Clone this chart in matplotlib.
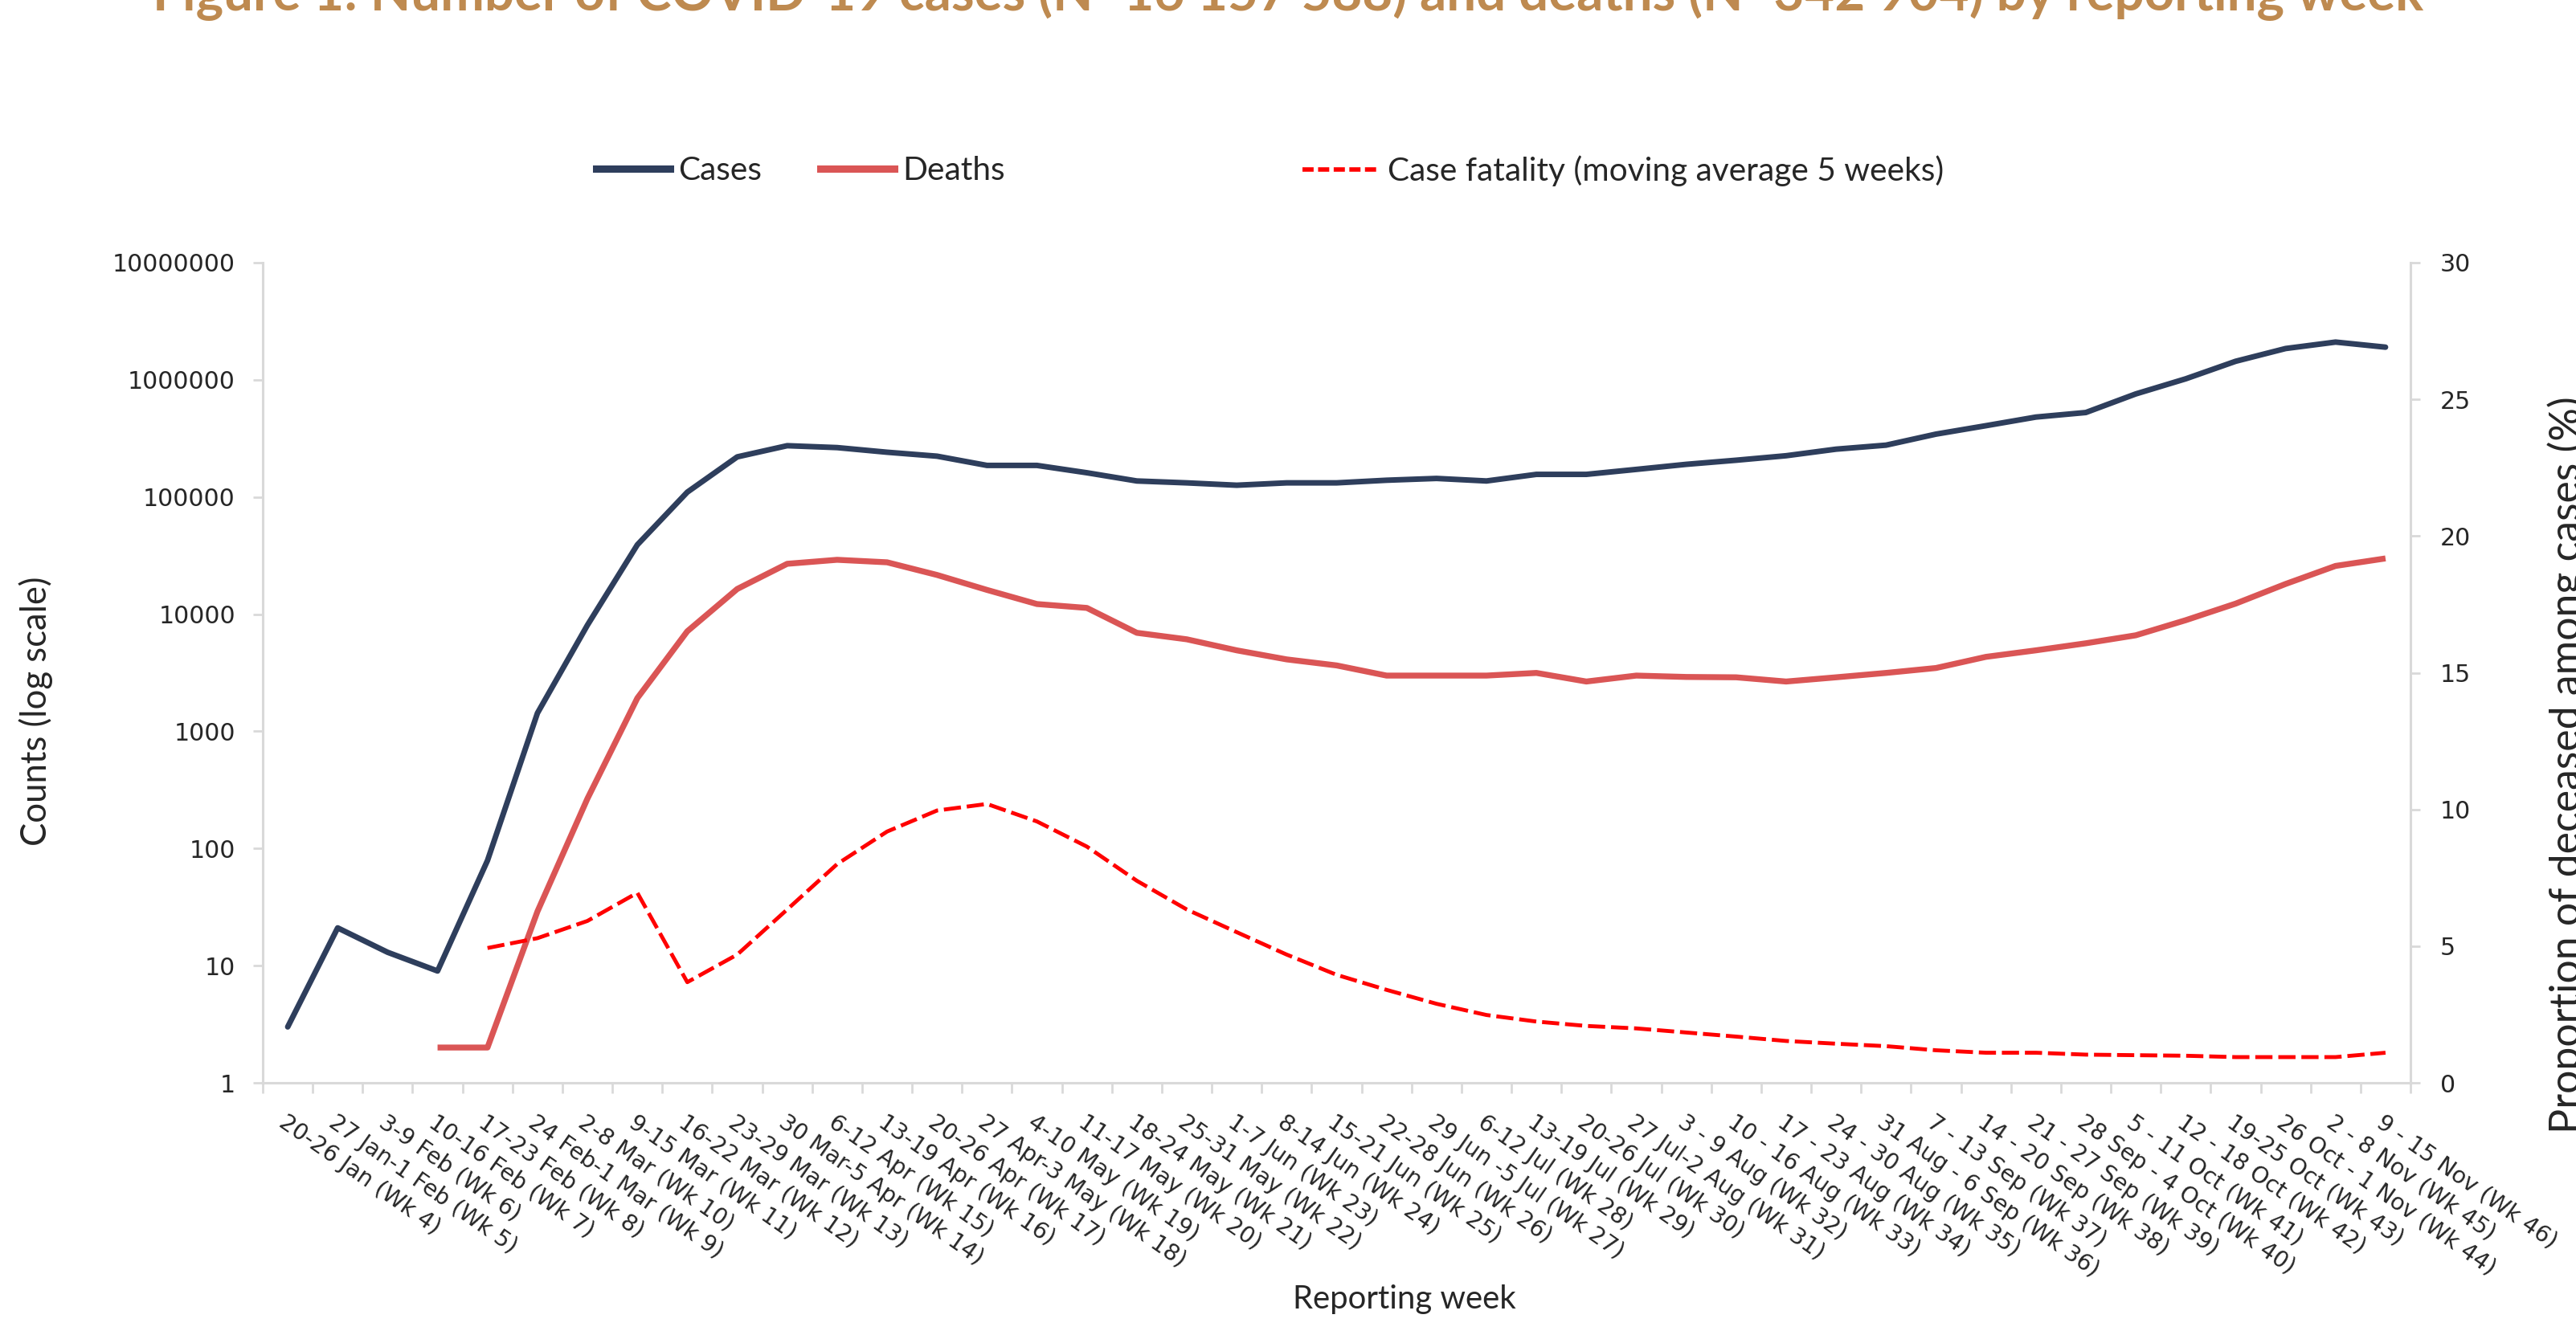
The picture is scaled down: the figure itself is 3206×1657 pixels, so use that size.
import numpy as np
import matplotlib
matplotlib.use("Agg")
import matplotlib.pyplot as plt
from matplotlib import font_manager as fm
from matplotlib.lines import Line2D
from matplotlib.ticker import NullLocator

# ---------------- data ----------------
weeks = ["20-26 Jan (Wk 4)", "27 Jan-1 Feb (Wk 5)", "3-9 Feb (Wk 6)", "10-16 Feb (Wk 7)",
         "17-23 Feb (Wk 8)", "24 Feb-1 Mar (Wk 9)", "2-8 Mar (Wk 10)", "9-15 Mar (Wk 11)",
         "16-22 Mar (Wk 12)", "23-29 Mar (Wk 13)", "30 Mar-5 Apr (Wk 14)", "6-12 Apr (Wk 15)",
         "13-19 Apr (Wk 16)", "20-26 Apr (Wk 17)", "27 Apr-3 May (Wk 18)", "4-10 May (Wk 19)",
         "11-17 May (Wk 20)", "18-24 May (Wk 21)", "25-31 May (Wk 22)", "1-7 Jun (Wk 23)",
         "8-14 Jun (Wk 24)", "15-21 Jun (Wk 25)", "22-28 Jun (Wk 26)", "29 Jun -5 Jul (Wk 27)",
         "6-12 Jul (Wk 28)", "13-19 Jul (Wk 29)", "20-26 Jul (Wk 30)", "27 Jul-2 Aug (Wk 31)",
         "3 - 9 Aug (Wk 32)", "10 - 16 Aug (Wk 33)", "17 - 23 Aug (Wk 34)", "24 - 30 Aug (Wk 35)",
         "31 Aug - 6 Sep (Wk 36)", "7 - 13 Sep (Wk 37)", "14 - 20 Sep (Wk 38)", "21 - 27 Sep (Wk 39)",
         "28 Sep - 4 Oct (Wk 40)", "5 - 11 Oct (Wk 41)", "12 - 18 Oct (Wk 42)", "19-25 Oct (Wk 43)",
         "26 Oct - 1 Nov (Wk 44)", "2 - 8 Nov (Wk 45)", "9 - 15 Nov (Wk 46)"]

cases = [3, 21, 13, 9, 79, 1430, 8050, 39100, 110000, 220000, 274000, 264000, 241000,
         223000, 186000, 186000, 161000, 137000, 132000, 126000, 132000,
         132000, 139000, 144000, 137000, 156000, 156000, 172000, 190000, 206000, 225000,
         256000, 277000, 344000, 406000, 481000, 526000, 758000, 1020000, 1440000,
         1850000, 2100000, 1900000]

deaths = [None, None, None, 2, 2, 29, 266, 1920, 7140, 16400, 26900, 29100, 27700, 21600,
          16100, 12200, 11300, 6930, 6100, 4910, 4110, 3650,
          2990, 2990, 2990, 3150, 2660, 2990, 2910, 2890, 2660, 2890, 3150, 3470, 4320,
          4910, 5640, 6600, 8880, 12300, 18100, 25800, 29900]

case_fatality = [None, None, None, None, 4.93, 5.29, 5.92, 6.95, 3.68, 4.69, 6.34, 8.0, 9.19,
                 9.96, 10.2, 9.56, 8.64, 7.39, 6.34, 5.51, 4.69, 3.95,
                 3.40, 2.89, 2.48, 2.24, 2.08, 1.99, 1.84, 1.69, 1.53, 1.43, 1.34, 1.19,
                 1.10, 1.10, 1.03, 1.01, 0.99, 0.94, 0.94, 0.94, 1.10]

y_left_ticks = [1, 10, 100, 1000, 10000, 100000, 1000000, 10000000]
y_right_ticks = [0, 5, 10, 15, 20, 25, 30]

title = "Figure 1: Number of COVID-19 cases (N=16 157 588) and deaths (N=342 904) by reporting week"

# ---------------- style ----------------
def pick(fams):
    for f in fams:
        try:
            fm.findfont(fm.FontProperties(family=f), fallback_to_default=False)
            return f
        except Exception:
            pass
    return "DejaVu Sans"

NARROW = pick(["Liberation Sans Narrow", "Lato", "DejaVu Sans"])
TICKF = "DejaVu Sans"

CASES_C = "#2E3E5C"
DEATHS_C = "#DA5555"
CF_C = "#FF0000"
AXIS_C = "#D9D9D9"
TEXT_C = "#262626"
TITLE_C = "#BE8A50"

W, H = 3206, 1657
fig = plt.figure(figsize=(W / 100, H / 100), dpi=100)
renderer = fig.canvas.get_renderer()


def fit_size(text, target_px, family, weight="normal", base=30.0):
    t = fig.text(0, 0, text, fontsize=base, family=family, weight=weight)
    w = t.get_window_extent(renderer).width
    t.remove()
    return base * target_px / w


ax = fig.add_axes([327 / W, 1 - 1348 / H, (3000 - 327) / W, (1348 - 327) / H])
x = np.arange(len(weeks))
d = np.array([np.nan if v is None else v for v in deaths], dtype=float)
cf = np.array([np.nan if v is None else v for v in case_fatality], dtype=float)

ax.plot(x, cases, color=CASES_C, lw=5.0, solid_joinstyle="round", solid_capstyle="round", zorder=3)
ax.plot(x, d, color=DEATHS_C, lw=5.3, solid_joinstyle="round", solid_capstyle="butt", zorder=3)
ax.set_yscale("log")
ax.set_ylim(1, 1e7)
ax.set_xlim(-0.5, len(weeks) - 0.5)

ax2 = ax.twinx()
ax2.plot(x, cf, color=CF_C, lw=3.5, dashes=(4.4, 1.5), zorder=3)
ax2.set_ylim(0, 30)
ax2.set_yticks(y_right_ticks)
ax2.set_yticklabels([str(v) for v in y_right_ticks])

ax.set_yticks(y_left_ticks)
ax.set_yticklabels([str(v) for v in y_left_ticks])
ax.yaxis.set_minor_locator(NullLocator())

tick_fs = fit_size("10000000", 153, TICKF)
xt_fs = fit_size("9 - 15 Nov (Wk 46)", 268, TICKF)

ax.set_xticks(x)
ax.set_xticklabels(weeks, rotation=-35, ha="left", va="top", rotation_mode="anchor",
                   fontsize=xt_fs, family=TICKF, color=TEXT_C)
ax.set_xticks(np.arange(-0.5, len(weeks), 1.0), minor=True)
ax.tick_params(axis="x", which="major", length=0, pad=25)
ax.tick_params(axis="x", which="minor", length=9.5, width=2, color=AXIS_C)
ax.tick_params(axis="y", which="major", length=8.6, width=2, color=AXIS_C, pad=16,
               labelsize=tick_fs, labelcolor=TEXT_C)
ax2.tick_params(axis="y", which="major", length=8.6, width=2, color=AXIS_C, pad=18,
                labelsize=tick_fs, labelcolor=TEXT_C)
for lab in ax.get_yticklabels() + ax2.get_yticklabels():
    lab.set_family(TICKF)

for a in (ax, ax2):
    a.spines["top"].set_visible(False)
    for s in ("left", "bottom", "right"):
        a.spines[s].set_color(AXIS_C)
        a.spines[s].set_linewidth(2.2)
ax.spines["right"].set_visible(False)
ax2.spines["left"].set_visible(False)
ax2.spines["bottom"].set_visible(False)

# ---------------- texts ----------------
title_fs = fit_size(title, 2822, NARROW, weight="bold")
fig.text(0.5, 1 - 13 / H, title, ha="center", va="baseline", fontsize=title_fs,
         weight="bold", family=NARROW, color=TITLE_C)

lab_fs = fit_size("Reporting week", 278, NARROW)
fig.text(1748 / W, 1 - 1618 / H, "Reporting week", ha="center", va="center",
         fontsize=lab_fs, family=NARROW, color=TEXT_C)
counts_fs = fit_size("Counts (log scale)", 335, NARROW)
fig.text(45 / W, 1 - 885 / H, "Counts (log scale)", rotation=90, ha="center", va="center",
         fontsize=counts_fs, family=NARROW, color=TEXT_C)
right_fs = fit_size("Proportion of deceased among cases (%)", 920, NARROW)
fig.text(3196 / W, 1 - 952 / H, "Proportion of deceased among cases (%)", rotation=90,
         ha="center", va="center", fontsize=right_fs, family=NARROW, color=TEXT_C)

leg_fs = fit_size("Case fatality (moving average 5 weeks)", 691, NARROW)
leg_px = leg_fs * 100 / 72
prop = fm.FontProperties(family=NARROW, size=leg_fs)
h1 = Line2D([], [], color=CASES_C, lw=6.5)
h2 = Line2D([], [], color=DEATHS_C, lw=6.5)
h3 = Line2D([], [], color=CF_C, lw=4.0, dashes=(2.5, 1.0))
leg1 = fig.legend([h1, h2], ["Cases", "Deaths"], loc="center left",
                  bbox_to_anchor=(742 / W, 1 - 213 / H), ncol=2, frameon=False, prop=prop,
                  handlelength=92 / leg_px, handletextpad=10 / leg_px,
                  columnspacing=73 / leg_px, borderpad=0, borderaxespad=0)
for t in leg1.get_texts():
    t.set_color(TEXT_C)
leg2 = fig.legend([h3], ["Case fatality (moving average 5 weeks)"], loc="center left",
                  bbox_to_anchor=(1621 / W, 1 - 213 / H), frameon=False, prop=prop,
                  handlelength=92 / leg_px, handletextpad=14 / leg_px,
                  borderpad=0, borderaxespad=0)
for t in leg2.get_texts():
    t.set_color(TEXT_C)

fig.savefig("out.png", dpi=100, facecolor="white")
